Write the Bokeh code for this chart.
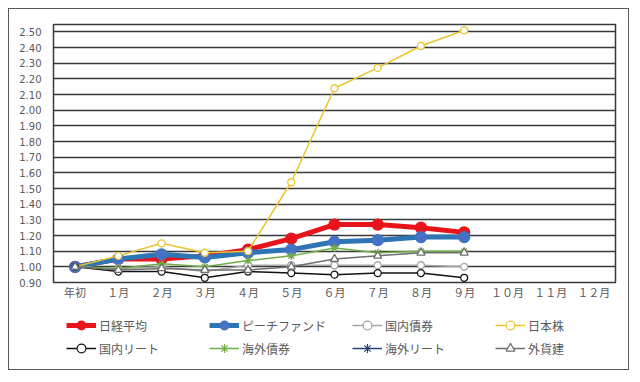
import numpy as np
from bokeh.plotting import figure
from bokeh.layouts import column
from bokeh.models import (FactorRange, Range1d, FixedTicker, NumeralTickFormatter,
                          Legend, LegendItem)
from bokeh.embed import file_html
from bokeh.resources import INLINE

nan = np.nan
months = ["年初", "１月", "２月", "３月", "４月", "５月", "６月", "７月", "８月", "９月", "１０月", "１１月", "１２月"]

nikkei = [1.00, 1.05, 1.05, 1.07, 1.11, 1.18, 1.27, 1.27, 1.25, 1.22, nan, nan, nan]
peach = [1.00, 1.05, 1.08, 1.06, 1.09, 1.11, 1.16, 1.17, 1.19, 1.19, nan, nan, nan]
kokunai_saiken = [1.00, 0.99, 1.00, 0.97, 1.01, 1.01, 1.01, 1.01, 1.01, 1.00, nan, nan, nan]
nihon_kabu = [1.00, 1.07, 1.15, 1.09, 1.10, 1.54, 2.14, 2.27, 2.41, 2.51, nan, nan, nan]
kokunai_reit = [1.00, 0.97, 0.97, 0.93, 0.97, 0.96, 0.95, 0.96, 0.96, 0.93, nan, nan, nan]
kaigai_saiken = [1.00, 0.99, 1.02, 1.00, 1.04, 1.07, 1.12, 1.09, 1.10, 1.10, nan, nan, nan]
kaigai_reit = [1.00, nan, nan, nan, nan, nan, nan, nan, nan, nan, nan, nan, nan]
gaika = [1.00, 0.98, 0.99, 0.98, 0.98, 1.00, 1.05, 1.07, 1.09, 1.09, nan, nan, nan]

yticks = [0.90, 1.00, 1.10, 1.20, 1.30, 1.40, 1.50, 1.60, 1.70, 1.80, 1.90,
          2.00, 2.10, 2.20, 2.30, 2.40, 2.50]

FONT = "Noto Sans CJK JP"
BORDER = "1.5px solid #5a5a5a"

p = figure(width=621, height=302, x_range=FactorRange(*months),
           y_range=Range1d(0.90, 2.547), output_backend="svg",
           toolbar_location=None, min_border_left=44, min_border_right=15,
           min_border_top=15, min_border_bottom=29)
p.styles = {"margin": "8px 0 0 8px", "border-top": BORDER, "border-left": BORDER,
            "border-right": BORDER}

p.outline_line_color = "#3a3a3a"
p.outline_line_width = 1.5
p.xgrid.grid_line_color = None
p.ygrid.grid_line_color = "#3a3a3a"
p.ygrid.grid_line_width = 1.5
p.yaxis.ticker = FixedTicker(ticks=yticks)
p.yaxis.formatter = NumeralTickFormatter(format="0.00")
for ax in (p.xaxis[0], p.yaxis[0]):
    ax.axis_line_color = None
    ax.major_tick_line_color = None
    ax.minor_tick_line_color = None
    ax.major_tick_in = 0
    ax.major_tick_out = 0
    ax.major_label_text_color = "#595959"
p.yaxis.major_label_text_font = "DejaVu Sans"
p.yaxis.major_label_text_font_size = "10px"
p.xaxis.major_label_text_font = FONT
p.xaxis.major_label_text_font_size = "11px"
p.yaxis.major_label_standoff = 12
p.xaxis.major_label_standoff = 1

# name, values, line colour, marker colour, line width, marker, size, fill, legend marker size
series = [
    ("日経平均", nikkei, "#E8141B", "#E8141B", 5, "circle", 11, "#E8141B", 8),
    ("ピーチファンド", peach, "#2E75B6", "#4472C4", 5, "circle", 11, "#4472C4", 8),
    ("国内債券", kokunai_saiken, "#A5A5A5", "#A5A5A5", 1.5, "circle", 7, "white", 6),
    ("日本株", nihon_kabu, "#E8C52F", "#E8C52F", 1.5, "circle", 7, "white", 6),
    ("国内リート", kokunai_reit, "#111111", "#111111", 1.5, "circle", 7, "white", 6),
    ("海外債券", kaigai_saiken, "#70AD47", "#70AD47", 1.5, "asterisk", 8, None, 7),
    ("海外リート", kaigai_reit, "#264478", "#264478", 1.5, "asterisk", 8, None, 7),
    ("外貨建", gaika, "#6E6E6E", "#6E6E6E", 1.5, "triangle", 8, "white", 7),
]

# legend strip below the chart, inside the same outer frame; its y range
# lies outside the data so its renderers only feed the legend glyphs
p2 = figure(width=621, height=60, x_range=p.x_range, y_range=Range1d(-3, -2),
            output_backend="svg", toolbar_location=None,
            x_axis_location=None, y_axis_location=None,
            min_border_left=0, min_border_right=0, min_border_top=0, min_border_bottom=0)
p2.styles = {"margin-left": "8px", "border-bottom": BORDER, "border-left": BORDER,
             "border-right": BORDER}
p2.outline_line_color = None
p2.grid.grid_line_color = None

items = []
for name, vals, lc, mc, lw, marker, size, fill, lsize in series:
    p.line(months, vals, line_color=lc, line_width=lw)
    p.scatter(months, vals, marker=marker, size=size, line_color=mc,
              fill_color=fill, line_width=1.3)
    k1 = p2.line(months, vals, line_color=lc, line_width=lw)
    k2 = p2.scatter(months, vals, marker=marker, size=lsize, line_color=mc,
                    fill_color=fill, line_width=1.2)
    items.append(LegendItem(label=name, renderers=[k1, k2]))

legend = Legend(items=items, orientation="horizontal", ncols=4,
                location=(13, 11), glyph_width=30, glyph_height=22,
                label_standoff=3, label_width=109, spacing=1,
                padding=0, margin=0, border_line_color=None,
                background_fill_alpha=0, label_text_font=FONT,
                label_text_font_size="12px", label_text_color="#595959",
                label_height=22)
legend.label_text_baseline = "middle"
p2.add_layout(legend, "center")

layout = column(p, p2, spacing=0)
open("out.html", "w").write(file_html(layout, INLINE))
